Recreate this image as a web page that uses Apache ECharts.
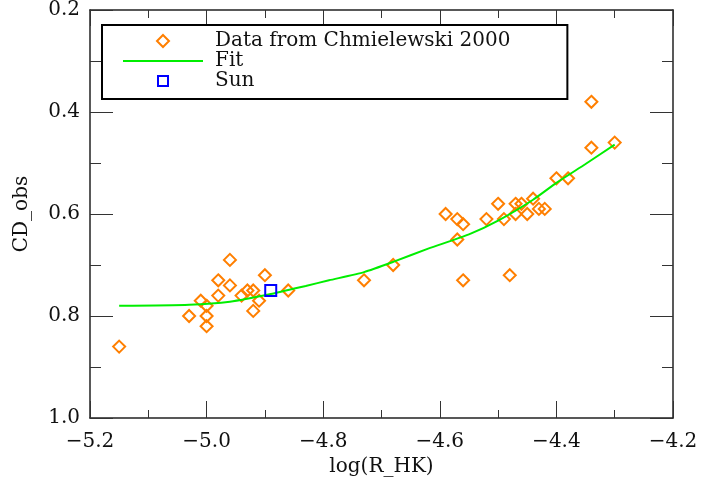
<!DOCTYPE html>
<html>
<head>
<meta charset="utf-8">
<script src="https://cdn.jsdelivr.net/npm/echarts@6/dist/echarts.min.js"></script>
<style>
  html, body { margin: 0; padding: 0; background: #fff; }
  #chart { width: 701px; height: 489px; }
</style>
</head>
<body>
<div id="chart"></div>
<script>
// data
var dataX = [-5.15, -5.03, -5.01, -5.00, -5.00, -5.00, -4.98, -4.98, -4.96, -4.96,
    -4.94, -4.93, -4.92, -4.92, -4.91, -4.90, -4.86, -4.73, -4.68,
    -4.59, -4.57, -4.57, -4.56, -4.56, -4.52, -4.50, -4.49, -4.48, -4.47, -4.47,
    -4.46, -4.45, -4.44, -4.43, -4.42, -4.40, -4.38, -4.34, -4.34, -4.30];
var dataY = [0.86, 0.80, 0.77, 0.78, 0.80, 0.82, 0.73, 0.76, 0.69, 0.74,
    0.76, 0.75, 0.75, 0.79, 0.77, 0.72, 0.75, 0.73, 0.70,
    0.60, 0.61, 0.65, 0.62, 0.73, 0.61, 0.58, 0.61, 0.72, 0.58, 0.60,
    0.58, 0.60, 0.57, 0.59, 0.59, 0.53, 0.53, 0.38, 0.47, 0.46];
var fitX = [-5.15, -5.03, -4.96, -4.89, -4.83, -4.79, -4.73, -4.68, -4.62, -4.55,
    -4.50, -4.44, -4.40, -4.35, -4.30];
var fitY = [0.780, 0.778, 0.772, 0.757, 0.741, 0.730, 0.714, 0.694, 0.668, 0.640,
    0.613, 0.572, 0.539, 0.502, 0.464];
var sunX = [-4.89];
var sunY = [0.75];
var names = ["Data from Chmielewski 2000", "Fit", "Sun"];

function pairs(xs, ys) {
    return xs.map((x, i) => [x, ys[i]]);
}

function fmt(v) {
    return v.toFixed(1).replace("-", "\u2212");
}

var font = "DejaVu Serif";
var frame = { show: true, onZero: false, lineStyle: { color: "#222", width: 1.5 } };

function xAx(pos, major, minor, showLabel) {
    return {
        type: "value",
        position: pos,
        min: -5.2,
        max: -4.2,
        interval: 0.2,
        axisLine: frame,
        axisTick: { show: true, inside: true, length: major, lineStyle: { color: "#333", width: 1 } },
        minorTick: { show: true, splitNumber: 2, length: minor, lineStyle: { color: "#333", width: 1 } },
        splitLine: { show: false },
        axisLabel: { show: showLabel, formatter: fmt, margin: 14, color: "#111",
            fontFamily: font, fontSize: 20 },
        name: showLabel ? "log(R_HK)" : "",
        nameLocation: "middle",
        nameGap: 35,
        nameTextStyle: { color: "#111", fontFamily: font, fontSize: 20 }
    };
}

function yAx(pos, showLabel) {
    return {
        type: "value",
        position: pos,
        inverse: true,
        min: 0.2,
        max: 1.0,
        interval: 0.2,
        axisLine: frame,
        axisTick: { show: true, inside: true, length: 23, lineStyle: { color: "#333", width: 1 } },
        minorTick: { show: true, splitNumber: 2, length: 11, lineStyle: { color: "#333", width: 1 } },
        splitLine: { show: false },
        axisLabel: { show: showLabel, formatter: fmt, margin: 10, color: "#111",
            fontFamily: font, fontSize: 20 },
        name: showLabel ? "CD_obs" : "",
        nameLocation: "middle",
        nameGap: 58,
        nameTextStyle: { color: "#111", fontFamily: font, fontSize: 20 }
    };
}

// legend icons: invisible corners keep the 80x14 box, so the marks stay square
var diamondIcon = "path://M0,0 M80,14 M40,1 L46,7 L40,13 L34,7 Z";
var squareIcon = "path://M0,0 M80,14 M35,2 L45,2 L45,12 L35,12 Z";
var clear = "rgba(0,0,0,0)";

var myChart = echarts.init(document.getElementById("chart"), null, { renderer: "canvas" });
var option = {
    animation: false,
    backgroundColor: "#fff",
    grid: { left: 90, right: 28, top: 3, bottom: 71, containLabel: false },
    legend: {
        orient: "vertical",
        left: 102,
        top: 25,
        data: [
            { name: names[0], icon: diamondIcon },
            // line only, hide the dot that the line legend adds
            { name: names[1], itemStyle: { color: clear, borderColor: clear, borderWidth: 0 } },
            { name: names[2], icon: squareIcon }
        ],
        itemWidth: 80,
        itemHeight: 14,
        itemGap: 0,
        padding: [6, 57, 8, 20],
        borderColor: "#000",
        borderWidth: 2,
        backgroundColor: "#fff",
        selectedMode: false,
        textStyle: { color: "#111", fontFamily: font, fontSize: 20, lineHeight: 20, padding: [0, 0, 0, 7] }
    },
    xAxis: [xAx("bottom", 17, 8, true), xAx("top", 16, 8, false)],
    yAxis: [yAx("left", true), yAx("right", false)],
    series: [{
        name: names[0],
        type: "scatter",
        symbol: "diamond",
        symbolSize: 12,
        data: pairs(dataX, dataY),
        itemStyle: { color: clear, borderColor: "#ff7f00", borderWidth: 2, opacity: 1 },
        z: 2
    }, {
        name: names[1],
        type: "line",
        data: pairs(fitX, fitY),
        showSymbol: false,
        symbol: "none",
        smooth: 0.2,
        lineStyle: { color: "#00ee00", width: 2 },
        itemStyle: { color: "#00ee00" },
        z: 3
    }, {
        name: names[2],
        type: "scatter",
        symbol: "rect",
        symbolSize: 11,
        data: pairs(sunX, sunY),
        itemStyle: { color: clear, borderColor: "#0000ff", borderWidth: 2, opacity: 1 },
        z: 4
    }]
};
myChart.setOption(option);
</script>
</body>
</html>
